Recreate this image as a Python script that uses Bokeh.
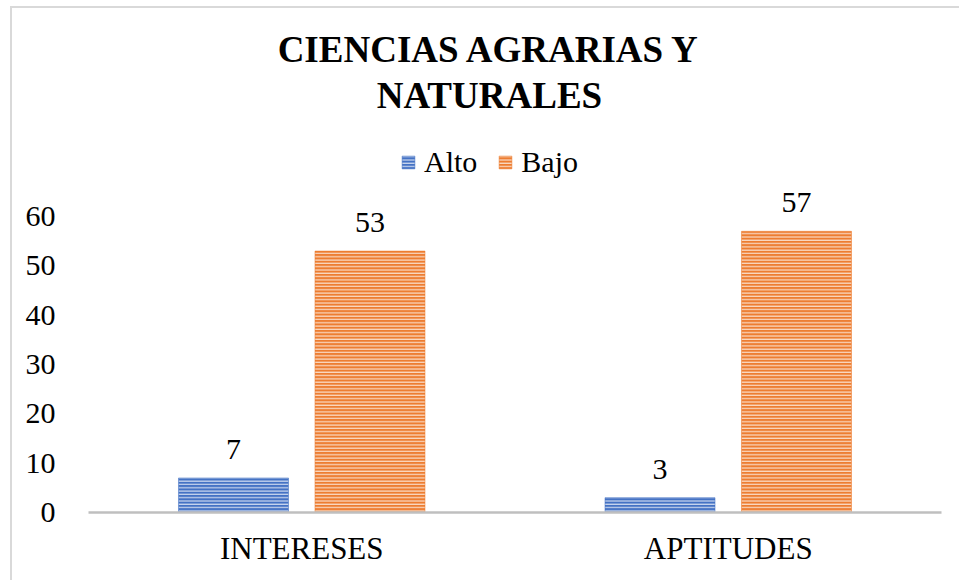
from bokeh.plotting import figure
from bokeh.models import (ColumnDataSource, FactorRange, Range1d, FixedTicker,
                          LabelSet, Legend, LegendItem)
from bokeh.core.properties import value
from bokeh.transform import dodge
from bokeh.embed import file_html
from bokeh.resources import INLINE

# ---- data ----
categories = ["INTERESES", "APTITUDES"]
series = ["Alto", "Bajo"]
alto = [7, 3]
bajo = [53, 57]
y_ticks = [0, 10, 20, 30, 40, 50, 60]
title_lines = ["CIENCIAS AGRARIAS Y", "NATURALES"]

BLUE = "#4472C4"
ORANGE = "#ED7D31"
FONT = "Liberation Serif"

# ---- layout constants (pixels) ----
W, H = 959, 580
PLOT_BOTTOM_PX = 512          # y pixel of value 0
PX_PER_UNIT = (512 - 216) / 60.0


def y_at(px):
    """data y value located at a given pixel row"""
    return (PLOT_BOTTOM_PX - px) / PX_PER_UNIT


src = ColumnDataSource(dict(
    cat=categories,
    alto=alto,
    bajo=bajo,
    alto_lbl=[str(v) for v in alto],
    bajo_lbl=[str(v) for v in bajo],
))

border_bg = ("linear-gradient(#d9d9d9, #d9d9d9) 10px 6px / 2px 574px no-repeat, "
             "linear-gradient(#d9d9d9, #d9d9d9) 10px 6px / 949px 2px no-repeat, #ffffff")

p = figure(
    x_range=FactorRange(*categories, range_padding=0),
    y_range=Range1d(0, y_at(0)),
    width=W, height=H,
    output_backend="svg", toolbar_location=None,
    min_border_left=88, min_border_right=18,
    min_border_top=0, min_border_bottom=H - PLOT_BOTTOM_PX,
    styles={"background": border_bg},
)
p.title_location = None
p.border_fill_color = None
p.background_fill_color = None

# chart title (two centred lines)
tsrc = ColumnDataSource(dict(
    anchor=[categories[0], categories[0]],
    y=[y_at(49), y_at(95)],
    text=title_lines,
))
p.text(x=dodge("anchor", 0.44, range=p.x_range), y="y", text="text", source=tsrc,
       text_align="center", text_baseline="alphabetic",
       text_font=value(FONT), text_font_size="37px", text_font_style="bold",
       text_color="#000000")

bar_w = 0.258
off = 0.16
r1 = p.vbar(x=dodge("cat", -off, range=p.x_range), top="alto", width=bar_w,
            source=src, fill_color=BLUE, line_color=BLUE, line_width=0.5,
            hatch_pattern="horizontal_line", hatch_color="white",
            hatch_weight=1.1, hatch_scale=3.3, hatch_alpha=0.8)
r2 = p.vbar(x=dodge("cat", off, range=p.x_range), top="bajo", width=bar_w,
            source=src, fill_color=ORANGE, line_color=ORANGE, line_width=0.5,
            hatch_pattern="horizontal_line", hatch_color="white",
            hatch_weight=1.1, hatch_scale=3.3, hatch_alpha=0.8)

for col, lbl, d in (("alto", "alto_lbl", -off), ("bajo", "bajo_lbl", off)):
    p.add_layout(LabelSet(x=dodge("cat", d, range=p.x_range), y=col, text=lbl,
                          source=src, text_align="center",
                          text_baseline="alphabetic", y_offset=19,
                          text_font=FONT, text_font_size="30px",
                          text_color="#000000"))

legend = Legend(
    items=[LegendItem(label=series[0], renderers=[r1]),
           LegendItem(label=series[1], renderers=[r2])],
    orientation="horizontal", location=(312, 333),
    border_line_color=None, background_fill_alpha=0,
    label_text_font=FONT, label_text_font_size="30px", label_text_color="#000000",
    glyph_width=16, glyph_height=16, padding=0, margin=0, spacing=20,
    label_standoff=8,
)
p.add_layout(legend)

# axes
p.yaxis.ticker = FixedTicker(ticks=y_ticks)
p.yaxis.axis_line_color = None
p.yaxis.major_tick_line_color = None
p.yaxis.minor_tick_line_color = None
p.yaxis.major_label_standoff = 27
p.yaxis.major_label_text_font = FONT
p.yaxis.major_label_text_font_size = "30px"
p.yaxis.major_label_text_color = "#000000"

p.xaxis.axis_line_color = "#bfbfbf"
p.xaxis.axis_line_width = 2.5
p.xaxis.major_tick_line_color = None
p.xaxis.minor_tick_line_color = None
p.xaxis.major_label_standoff = 12
p.xaxis.major_label_text_font = FONT
p.xaxis.major_label_text_font_size = "31px"
p.xaxis.major_label_text_color = "#000000"

p.xgrid.grid_line_color = None
p.ygrid.grid_line_color = None
p.outline_line_color = None

open("out.html", "w").write(file_html(p, INLINE))
